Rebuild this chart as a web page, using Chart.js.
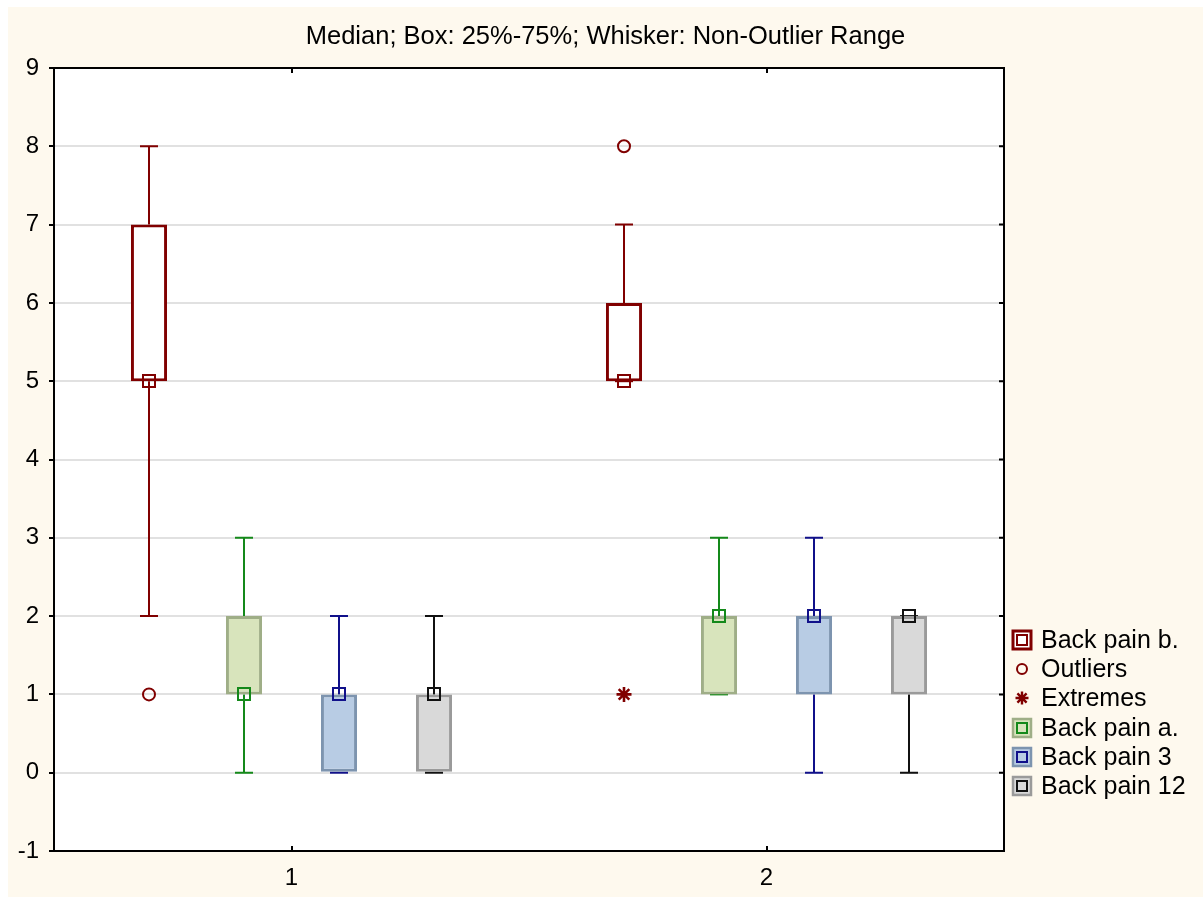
<!DOCTYPE html>
<html>
<head>
<meta charset="utf-8">
<title>Back pain box plot</title>
<script src="https://cdn.jsdelivr.net/npm/chart.js@4"></script>
<style>
  html, body { margin: 0; padding: 0; background: #ffffff; }
  #wrap { position: absolute; left: 8px; top: 7px; width: 1195px; height: 890px; }
</style>
</head>
<body>
<div id="wrap"><canvas id="chart"></canvas></div>
<script>
// ---- data -------------------------------------------------------------
const categories  = ['1', '2'];
const seriesNames = ['Back pain b.', 'Back pain a.', 'Back pain 3', 'Back pain 12'];

// one row per series, one column per category
const whiskerLow  = [[2, 5], [0, 1], [0, 0], [0, 0]];
const boxLow      = [[5, 5], [1, 1], [0, 1], [0, 1]];
const medians     = [[5, 5], [1, 2], [1, 2], [1, 2]];
const boxHigh     = [[7, 6], [2, 2], [1, 2], [1, 2]];
const whiskerHigh = [[8, 7], [3, 3], [2, 3], [2, 2]];
const outliers    = [[[1], [8]], [[], []], [[], []], [[], []]];
const extremes    = [[[], [1]], [[], []], [[], []], [[], []]];

const yMin = -1, yMax = 9, yStep = 1;

// ---- styles -----------------------------------------------------------
const FONT = '"Liberation Sans", Arial, Helvetica, sans-serif';
const boxFills   = ['#ffffff', '#d8e4bc', '#b8cce4', '#d9d9d9'];
const boxBorders = ['#800000', '#9fae87', '#7d94af', '#9a9a9a'];
const markColors = ['#800000', '#14891a', '#10108a', '#111111'];
const outlierColor = '#800000';

function strokeSquare(ctx, x, y, half) {
  ctx.strokeRect(Math.round(x - half), Math.round(y - half), half * 2, half * 2);
}
function strokeCircle(ctx, x, y, r) {
  ctx.beginPath();
  ctx.arc(x, y, r, 0, Math.PI * 2);
  ctx.stroke();
}
function strokeAsterisk(ctx, x, y, r) {
  ctx.beginPath();
  for (let k = 0; k < 4; k++) {
    const a = k * Math.PI / 4;
    ctx.moveTo(x - r * Math.cos(a), y - r * Math.sin(a));
    ctx.lineTo(x + r * Math.cos(a), y + r * Math.sin(a));
  }
  ctx.stroke();
}

// cream page, white plotting area
const backdrop = {
  id: 'backdrop',
  beforeDraw(chart) {
    const { ctx, chartArea: a } = chart;
    ctx.save();
    ctx.fillStyle = '#fef9ee';
    ctx.fillRect(0, 0, chart.width, chart.height);
    ctx.fillStyle = '#ffffff';
    ctx.fillRect(a.left, a.top, a.right - a.left, a.bottom - a.top);
    ctx.restore();
  }
};

// whiskers behind the boxes; medians, outliers, extremes and frame on top
const boxMarks = {
  id: 'boxMarks',
  beforeDatasetsDraw(chart) {
    const { ctx } = chart;
    const ys = chart.scales.y;
    ctx.save();
    ctx.lineWidth = 2;
    chart.data.datasets.forEach((ds, s) => {
      const meta = chart.getDatasetMeta(s);
      meta.data.forEach((bar, j) => {
        const x = Math.round(bar.x);
        ctx.strokeStyle = markColors[s];
        const pairs = [[boxHigh[s][j], whiskerHigh[s][j]], [boxLow[s][j], whiskerLow[s][j]]];
        pairs.forEach(([from, to]) => {
          const y0 = ys.getPixelForValue(from), y1 = ys.getPixelForValue(to);
          ctx.beginPath();
          ctx.moveTo(x, y0);
          ctx.lineTo(x, y1);
          ctx.moveTo(x - 9, y1);
          ctx.lineTo(x + 9, y1);
          ctx.stroke();
        });
      });
    });
    ctx.restore();
  },
  afterDatasetsDraw(chart) {
    const { ctx, chartArea: a } = chart;
    const ys = chart.scales.y, xs = chart.scales.x;
    ctx.save();
    chart.data.datasets.forEach((ds, s) => {
      const meta = chart.getDatasetMeta(s);
      meta.data.forEach((bar, j) => {
        const x = bar.x;
        ctx.lineWidth = 2;
        ctx.strokeStyle = markColors[s];
        strokeSquare(ctx, x, ys.getPixelForValue(medians[s][j]), 6);
        ctx.strokeStyle = outlierColor;
        outliers[s][j].forEach(v => strokeCircle(ctx, x, ys.getPixelForValue(v), 6));
        ctx.lineWidth = 2.6;
        extremes[s][j].forEach(v => strokeAsterisk(ctx, x, ys.getPixelForValue(v), 7.5));
      });
    });
    // frame: top and right edges plus inward tick marks
    ctx.lineWidth = 2;
    ctx.strokeStyle = '#000000';
    ctx.beginPath();
    ctx.moveTo(a.left, a.top);
    ctx.lineTo(a.right, a.top);
    ctx.lineTo(a.right, a.bottom);
    ys.ticks.forEach(t => {
      const py = ys.getPixelForValue(t.value);
      ctx.moveTo(a.right - 5, py);
      ctx.lineTo(a.right, py);
    });
    categories.forEach((c, j) => {
      const px = Math.round(xs.getPixelForValue(j));
      ctx.moveTo(px, a.top);
      ctx.lineTo(px, a.top + 5);
      ctx.moveTo(px, a.bottom);
      ctx.lineTo(px, a.bottom - 5);
    });
    ctx.stroke();
    ctx.restore();
  }
};

// legend column to the right of the plot
const sideLegend = {
  id: 'sideLegend',
  afterDraw(chart) {
    const { ctx, chartArea: a } = chart;
    const cx = a.right + 18, tx = a.right + 37;
    const top = a.bottom - 211, step = 29.2;
    const entries = [
      { label: seriesNames[0], kind: 'box', s: 0 },
      { label: 'Outliers', kind: 'circle' },
      { label: 'Extremes', kind: 'star' },
      { label: seriesNames[1], kind: 'box', s: 1 },
      { label: seriesNames[2], kind: 'box', s: 2 },
      { label: seriesNames[3], kind: 'box', s: 3 }
    ];
    ctx.save();
    ctx.font = '25px ' + FONT;
    ctx.textBaseline = 'middle';
    ctx.textAlign = 'left';
    entries.forEach((e, i) => {
      const cy = Math.round(top + i * step);
      if (e.kind === 'box') {
        ctx.fillStyle = boxFills[e.s];
        ctx.fillRect(cx - 10, cy - 10, 20, 20);
        ctx.strokeStyle = boxBorders[e.s];
        ctx.lineWidth = e.s === 0 ? 3 : 2.5;
        ctx.strokeRect(cx - 9, cy - 9, 18, 18);
        ctx.strokeStyle = markColors[e.s];
        ctx.lineWidth = 2;
        ctx.strokeRect(cx - 5, cy - 5, 10, 10);
      } else if (e.kind === 'circle') {
        ctx.strokeStyle = outlierColor;
        ctx.lineWidth = 2;
        strokeCircle(ctx, cx, cy, 5);
      } else {
        ctx.strokeStyle = outlierColor;
        ctx.lineWidth = 2.4;
        strokeAsterisk(ctx, cx, cy, 6.5);
      }
      ctx.fillStyle = '#000000';
      ctx.fillText(e.label, tx, cy + 1);
    });
    ctx.restore();
  }
};

new Chart(document.getElementById('chart'), {
  type: 'bar',
  data: {
    labels: categories,
    datasets: seriesNames.map((name, s) => ({
      label: name,
      data: categories.map((c, j) => [boxLow[s][j], boxHigh[s][j]]),
      backgroundColor: boxFills[s],
      borderColor: boxBorders[s],
      borderWidth: 3,
      borderSkipped: false,
      categoryPercentage: 0.8,
      barPercentage: 0.38
    }))
  },
  options: {
    responsive: true,
    maintainAspectRatio: false,
    animation: false,
    layout: { padding: 0 },
    plugins: {
      legend: { display: false },
      tooltip: { enabled: false },
      title: {
        display: true,
        text: 'Median; Box: 25%-75%; Whisker: Non-Outlier Range',
        color: '#000000',
        font: { family: FONT, size: 25.5, weight: 'normal' },
        padding: { top: 15, bottom: 15.4 }
      }
    },
    scales: {
      x: {
        type: 'category',
        grid: { display: false, drawTicks: false },
        border: { display: true, color: '#000000', width: 2 },
        ticks: { color: '#000000', font: { family: FONT, size: 24 }, padding: 13 },
        afterFit(scale) { scale.height = 46; }
      },
      y: {
        min: yMin,
        max: yMax,
        grid: { color: '#e1e1e1', lineWidth: 2, tickLength: 5, tickColor: '#000000', tickWidth: 2 },
        border: { display: true, color: '#000000', width: 2 },
        ticks: { stepSize: yStep, color: '#000000', font: { family: FONT, size: 24 }, padding: 10 },
        afterFit(scale) { scale.width = 46; }
      },
      // empty right-hand band that holds the legend column
      legendBand: {
        type: 'linear',
        position: 'right',
        display: true,
        grid: { display: false, drawTicks: false },
        border: { display: false },
        ticks: { display: false },
        afterFit(scale) { scale.width = 199; }
      }
    }
  },
  plugins: [backdrop, boxMarks, sideLegend]
});
</script>
</body>
</html>
